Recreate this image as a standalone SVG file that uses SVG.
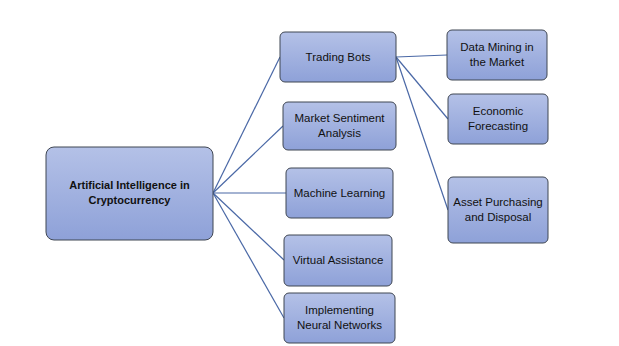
<svg xmlns="http://www.w3.org/2000/svg" width="619" height="346" viewBox="0 0 619 346">
<defs>
<linearGradient id="g" x1="0" y1="0" x2="0" y2="1">
<stop offset="0" stop-color="#b4c1e7"/>
<stop offset="1" stop-color="#8ea1d8"/>
</linearGradient>
<style>
.n rect{fill:url(#g);stroke:#3f4652;stroke-width:1}
.n text{font-family:"Liberation Sans",Arial,sans-serif;font-size:11.5px;fill:#111;text-anchor:middle}
.b text{font-weight:bold;font-size:11px}
.c line{stroke:#4a68a6;stroke-width:1.2}
</style>
</defs>
<rect width="619" height="346" fill="#fff"/>
<g class="c">
<line x1="213" y1="193" x2="280" y2="57"/>
<line x1="213" y1="193" x2="283" y2="126"/>
<line x1="213" y1="193" x2="286" y2="193"/>
<line x1="213" y1="193" x2="284" y2="260"/>
<line x1="213" y1="193" x2="284" y2="318"/>
<line x1="396" y1="57" x2="447" y2="55"/>
<line x1="396" y1="57" x2="448" y2="119"/>
<line x1="396" y1="57" x2="448" y2="210"/>
</g>
<g id="root" class="n b"><rect x="46" y="147" width="167" height="93" rx="8"/><text x="129.5" y="189">Artificial Intelligence in</text><text x="129.5" y="204">Cryptocurrency</text></g>
<g id="trading" class="n"><rect x="280" y="32" width="116" height="50" rx="5"/><text x="338" y="61">Trading Bots</text></g>
<g id="sentiment" class="n"><rect x="283" y="102" width="113" height="48" rx="5"/><text x="339.5" y="122">Market Sentiment</text><text x="339.5" y="137">Analysis</text></g>
<g id="ml" class="n"><rect x="286" y="168" width="107" height="50" rx="5"/><text x="339.5" y="197">Machine Learning</text></g>
<g id="va" class="n"><rect x="284" y="235" width="108" height="51" rx="5"/><text x="338" y="264">Virtual Assistance</text></g>
<g id="nn" class="n"><rect x="284" y="293" width="111" height="50" rx="5"/><text x="339.5" y="314">Implementing</text><text x="339.5" y="329">Neural Networks</text></g>
<g id="dm" class="n"><rect x="447" y="30" width="100" height="50" rx="5"/><text x="497" y="51">Data Mining in</text><text x="497" y="66">the Market</text></g>
<g id="ef" class="n"><rect x="448" y="94" width="100" height="50" rx="5"/><text x="498" y="115">Economic</text><text x="498" y="130">Forecasting</text></g>
<g id="ap" class="n"><rect x="448" y="177" width="100" height="66" rx="5"/><text x="498" y="206">Asset Purchasing</text><text x="498" y="221">and Disposal</text></g>
</svg>
